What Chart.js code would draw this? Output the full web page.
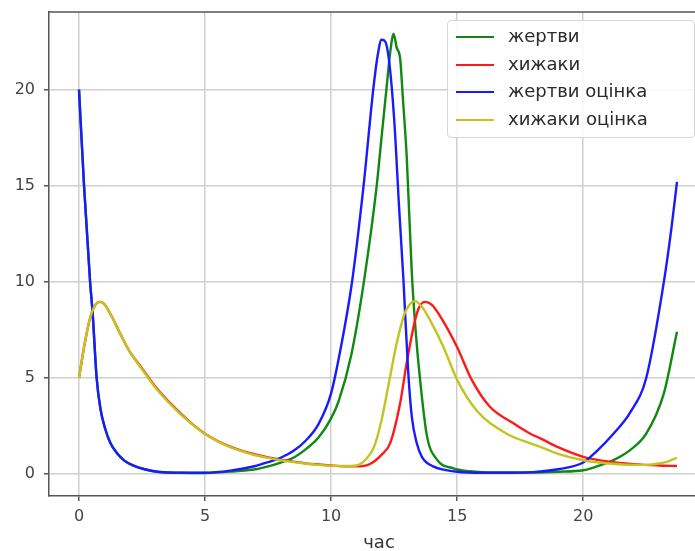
<!DOCTYPE html>
<html>
<head>
<meta charset="utf-8">
<script src="https://cdn.jsdelivr.net/npm/chart.js@4/dist/chart.umd.min.js"></script>
<style>
    html, body { margin: 0; padding: 0; background: #fff; overflow: hidden; width: 695px; height: 551px; }
    #wrap { position: absolute; left: 0; top: 0; width: 720px; height: 551px; }
    #legenda {
        position: absolute; left: 447px; top: 20px; width: 246px; height: 116px;
        border: 1px solid #d6d6d6; border-radius: 4px; background: rgba(255,255,255,0.85);
        font-family: "DejaVu Sans"; font-size: 18px; color: #2a2a2a;
    }
    .item { position: absolute; left: 8px; height: 20px; width: 230px; }
    .linha { position: absolute; left: 0; top: 9px; width: 38px; height: 2px; }
    .txt { position: absolute; left: 52px; top: -2px; white-space: nowrap; }
</style>
</head>
<body>
<div id="wrap">
    <canvas id="grafico" width="720" height="551"></canvas>
    <div id="legenda"></div>
</div>
<script>
// eixos
var xTicks = [0, 5, 10, 15, 20];
var yTicks = [0, 5, 10, 15, 20];

// жертви (green)
var preyT = [0, 0.2, 0.44, 0.54, 0.7, 0.85, 1.03, 1.25, 1.5, 1.8, 2.14, 2.6, 3.1, 4, 5, 6, 7, 7.5, 8, 8.5, 9, 9.5, 10, 10.3, 10.8, 11.3, 11.8, 12.0, 12.2, 12.35, 12.48, 12.6, 12.74, 12.85, 13.0, 13.2, 13.35, 13.53, 13.8, 14.2, 14.85, 15.5, 16, 17, 18, 19, 20, 20.5, 21.2, 21.86, 22.5, 23.2, 23.72];
var preyV = [20, 15, 10, 8.4, 5, 3.4, 2.4, 1.6, 1.1, 0.7, 0.45, 0.25, 0.12, 0.07, 0.06, 0.13, 0.25, 0.4, 0.6, 0.85, 1.3, 1.9, 2.9, 3.8, 6.2, 10, 14.9, 17.5, 20.1, 22, 22.9, 22.2, 21.6, 19.5, 16.5, 10.5, 7.5, 4.9, 2.0, 0.75, 0.3, 0.15, 0.1, 0.08, 0.08, 0.12, 0.2, 0.38, 0.73, 1.25, 2.1, 4.2, 7.4];

// хижаки (red)
var predT = [0, 0.2, 0.4, 0.6, 0.83, 1.0, 1.3, 1.6, 2.0, 2.5, 3.0, 3.5, 4, 4.5, 5, 5.5, 6, 6.5, 7, 7.5, 8, 8.5, 9, 9.5, 10, 10.5, 11, 11.5, 12.0, 12.34, 12.74, 13.0, 13.33, 13.5, 13.73, 14.0, 14.33, 15.0, 15.58, 16.3, 17.23, 17.9, 18.3, 19, 20, 21, 22, 23, 23.72];
var predV = [5, 6.6, 7.9, 8.7, 8.96, 8.85, 8.2, 7.4, 6.4, 5.5, 4.6, 3.85, 3.2, 2.6, 2.1, 1.72, 1.43, 1.2, 1.02, 0.87, 0.75, 0.65, 0.56, 0.5, 0.45, 0.41, 0.4, 0.5, 1.0, 1.6, 3.7, 5.8, 8.0, 8.7, 8.96, 8.8, 8.2, 6.6, 4.9, 3.5, 2.64, 2.1, 1.86, 1.4, 0.9, 0.65, 0.52, 0.45, 0.42];

// жертви оцінка (blue)
var preyEstT = [0, 0.2, 0.44, 0.54, 0.7, 0.85, 1.03, 1.25, 1.5, 1.8, 2.14, 2.6, 3.1, 4, 5, 6, 7, 7.5, 8, 8.5, 9, 9.5, 10, 10.36, 10.82, 11.28, 11.68, 11.85, 12.0, 12.15, 12.3, 12.5, 12.7, 12.87, 13.05, 13.2, 13.4, 13.6, 14.05, 14.5, 15, 16, 17, 18, 19, 20, 20.54, 21.2, 21.86, 22.5, 23.2, 23.5, 23.72];
var preyEstV = [20, 15, 10, 8.4, 5, 3.4, 2.4, 1.6, 1.1, 0.7, 0.45, 0.25, 0.12, 0.07, 0.07, 0.18, 0.42, 0.62, 0.85, 1.2, 1.75, 2.6, 4.2, 6.4, 9.9, 14.9, 20.1, 21.8, 22.6, 22.5, 21.5, 18.5, 13.8, 10.1, 5.5, 3.0, 1.6, 0.9, 0.4, 0.22, 0.12, 0.07, 0.07, 0.1, 0.25, 0.6, 1.2, 2.1, 3.2, 5.0, 10, 12.8, 15.2];

// хижаки оцінка (yellow)
var predEstT = [0, 0.2, 0.4, 0.6, 0.83, 1.0, 1.3, 1.6, 2.0, 2.5, 3.0, 3.5, 4, 4.5, 5, 5.5, 6, 6.5, 7, 7.5, 8, 8.5, 9, 9.5, 10, 10.5, 11, 11.4, 11.7, 12.0, 12.3, 12.6, 12.9, 13.1, 13.33, 13.6, 13.93, 14.46, 15.0, 15.78, 16.97, 17.9, 18.3, 19, 20, 21, 22, 22.5, 23, 23.4, 23.72];
var predEstV = [5, 6.6, 7.9, 8.7, 8.96, 8.85, 8.2, 7.4, 6.4, 5.45, 4.55, 3.8, 3.15, 2.58, 2.08, 1.7, 1.4, 1.17, 0.98, 0.84, 0.72, 0.62, 0.54, 0.48, 0.44, 0.42, 0.45, 0.8, 1.4, 2.8, 4.8, 6.8, 8.3, 8.8, 9.0, 8.7, 8.0, 6.6, 4.9, 3.3, 2.1, 1.6, 1.42, 1.05, 0.72, 0.55, 0.48, 0.48, 0.55, 0.68, 0.85];

var series = [
    { nome: 'жертви', t: preyT, v: preyV, cor: '#118811' },
    { nome: 'хижаки', t: predT, v: predV, cor: '#ff1a1a' },
    { nome: 'жертви оцінка', t: preyEstT, v: preyEstV, cor: '#1a1aff' },
    { nome: 'хижаки оцінка', t: predEstT, v: predEstV, cor: '#c4c420' }
];

function pontos(t, v) {
    var out = [];
    for (var i = 0; i < t.length; i++) out.push({ x: t[i], y: v[i] });
    return out;
}

// chart.js draws the first dataset on top, so reverse (matplotlib order: last on top)
var datasets = [];
for (var i = series.length - 1; i >= 0; i--) {
    datasets.push({
        label: series[i].nome,
        data: pontos(series[i].t, series[i].v),
        borderColor: series[i].cor,
        borderWidth: 2.4,
        pointRadius: 0,
        fill: false,
        cubicInterpolationMode: 'monotone'
    });
}

// legenda igual ao matplotlib
var legenda = document.getElementById('legenda');
for (var i = 0; i < series.length; i++) {
    legenda.innerHTML +=
        `<div class="item" style="top:${Math.round(6 + i * 27.5)}px">
            <span class="linha" style="background:${series[i].cor}"></span>
            <span class="txt">${series[i].nome}</span>
        </div>`;
}

const bordaTopo = {
    id: 'bordaTopo',
    afterDraw(chart) {
        const ctx = chart.ctx, a = chart.chartArea;
        ctx.save();
        ctx.strokeStyle = '#555';
        ctx.lineWidth = 1.5;
        ctx.beginPath();
        ctx.moveTo(a.left, a.top);
        ctx.lineTo(a.right, a.top);
        ctx.stroke();
        ctx.restore();
    }
};

const fonte = { family: 'DejaVu Sans', size: 16 };

const config = {
    type: 'line',
    data: { datasets: datasets },
    options: {
        responsive: false,
        animation: false,
        layout: { padding: { left: 0, top: 12, right: 11, bottom: 0 } },
        plugins: {
            legend: { display: false },
            tooltip: { enabled: false }
        },
        scales: {
            x: {
                type: 'linear',
                min: -1.19,
                max: 24.99,
                afterBuildTicks: s => { s.ticks = xTicks.map(v => ({ value: v })); },
                afterFit: s => { s.height = 55; s.paddingLeft = 0; s.paddingRight = 0; },
                ticks: { color: '#444', font: fonte, padding: 6, autoSkip: false, maxRotation: 0 },
                grid: { color: '#cfcfcf', lineWidth: 1.5, tickLength: 5, tickColor: '#555', tickWidth: 1.5 },
                border: { color: '#555', width: 1.5 },
                title: { display: true, text: 'час', color: '#333', font: { family: 'DejaVu Sans', size: 18 }, padding: { top: 0, bottom: -3 } }
            },
            y: {
                type: 'linear',
                min: -1.14,
                max: 24.04,
                afterBuildTicks: s => { s.ticks = yTicks.map(v => ({ value: v })); },
                afterFit: s => { s.width = 49; s.paddingTop = 0; s.paddingBottom = 0; },
                ticks: { color: '#444', font: fonte, padding: 9, autoSkip: false },
                grid: { color: '#cfcfcf', lineWidth: 1.5, tickLength: 5, tickColor: '#555', tickWidth: 1.5 },
                border: { color: '#555', width: 1.5 }
            }
        }
    },
    plugins: [bordaTopo]
};

let meuGrafico = new Chart(document.getElementById('grafico'), config);
</script>
</body>
</html>
